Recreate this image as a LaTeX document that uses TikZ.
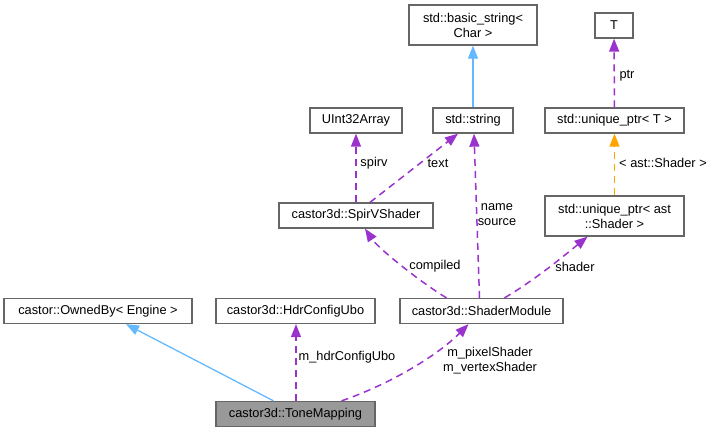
\documentclass[tikz,border=0pt]{standalone}
\usepackage{fontspec}
\setmainfont{Liberation Sans}
\usetikzlibrary{arrows.meta}
\definecolor{boxgrey}{HTML}{666666}
\definecolor{focusgrey}{HTML}{999999}
\definecolor{usagepurple}{HTML}{9A32CD}
\definecolor{inheritblue}{HTML}{63B8FF}
\definecolor{templorange}{HTML}{FFA500}

\begin{document}
\begin{tikzpicture}[x=1pt, y=-1pt,
        box/.style={draw=boxgrey, line width=1.3pt, fill=white, inner sep=0pt,
            minimum height=25pt, align=center, font=\fontsize{12.8}{15}\selectfont},
        lbl/.style={inner sep=0pt, align=center, font=\fontsize{12.8}{15}\selectfont},
        usage/.style={draw=usagepurple, line width=1.5pt, dash pattern=on 7pt off 5pt,
            -{Triangle[length=13pt, width=10pt]}},
        inherit/.style={draw=inheritblue, line width=1.3pt,
            -{Triangle[length=13pt, width=10pt]}},
        templ/.style={draw=templorange, line width=1.5pt, dash pattern=on 7pt off 5pt,
            -{Triangle[length=13pt, width=10pt]}}]
        \useasboundingbox (0,0) rectangle (716,432);

        % Top row
        \node[box, minimum width=128pt, minimum height=40pt] (basicstr) at (473,25) {std::basic\_string<\\Char >};
        \node[box, minimum width=38pt] (tparam) at (614,25.5) {T};

        % Second row
        \node[box, minimum width=92pt] (uintarr) at (356,120.5) {UInt32Array};
        \node[box, minimum width=80pt] (stdstr) at (473,120.5) {std::string};
        \node[box, minimum width=139pt] (uptrT) at (614.5,120.5) {std::unique\_ptr< T >};

        % Third row
        \node[box, minimum width=154pt] (spirv) at (356,215.5) {castor3d::SpirVShader};
        \node[box, minimum width=139pt, minimum height=40pt] (uptrast) at (614.5,216) {std::unique\_ptr< ast\\::Shader >};

        % Bottom rows
        \node[box, minimum width=188pt] (ownedby) at (98,311) {castor::OwnedBy< Engine >};
        \node[box, minimum width=159pt] (hdrubo) at (295.5,311) {castor3d::HdrConfigUbo};
        \node[box, minimum width=163pt] (shadermod) at (481.5,311) {castor3d::ShaderModule};
        \node[box, minimum width=159pt, fill=focusgrey] (tonemap) at (295.5,414) {castor3d::ToneMapping};

        % Connections
        \draw[inherit] (stdstr) -- (basicstr);
        \draw[usage] (uptrT) -- (tparam);
        \node[lbl] (lptr) at (627,76) {ptr};
        \draw[templ] (uptrast) -- (uptrT);
        \node[lbl] (last) at (663,163) {< ast::Shader >};

        \draw[usage] (spirv) -- (uintarr);
        \node[lbl] (lspirv) at (374,163) {spirv};
        \draw[usage] ([xshift=14pt]spirv.north) -- ([xshift=-15pt]stdstr.south);
        \node[lbl] (ltext) at (438,163) {text};

        \draw[usage] ([xshift=-35pt]shadermod.north) .. controls (420,282) and (378,248) .. ([xshift=9pt]spirv.south);
        \node[lbl] (lcompiled) at (435,266) {compiled};
        \draw[usage] ([xshift=-2pt]shadermod.north) -- ([xshift=1pt]stdstr.south);
        \node[lbl] (lname) at (497,215) {name\\source};
        \draw[usage] ([xshift=23pt]shadermod.north) .. controls (535,280) and (565,255) .. ([xshift=-27pt]uptrast.south);
        \node[lbl] (lshader) at (575,267) {shader};

        \draw[inherit] ([xshift=-22pt]tonemap.north) -- ([xshift=28pt]ownedby.south);
        \draw[usage] ([xshift=0.5pt]tonemap.north) -- ([xshift=0.5pt]hdrubo.south);
        \node[lbl] (lhdr) at (347,357) {m\_hdrConfigUbo};
        \draw[usage] ([xshift=46pt]tonemap.north) .. controls (385,386) and (435,358) .. ([xshift=-13pt]shadermod.south);
        \node[lbl] (lpix) at (490,361) {m\_pixelShader\\m\_vertexShader};
    \end{tikzpicture}
\end{document}
